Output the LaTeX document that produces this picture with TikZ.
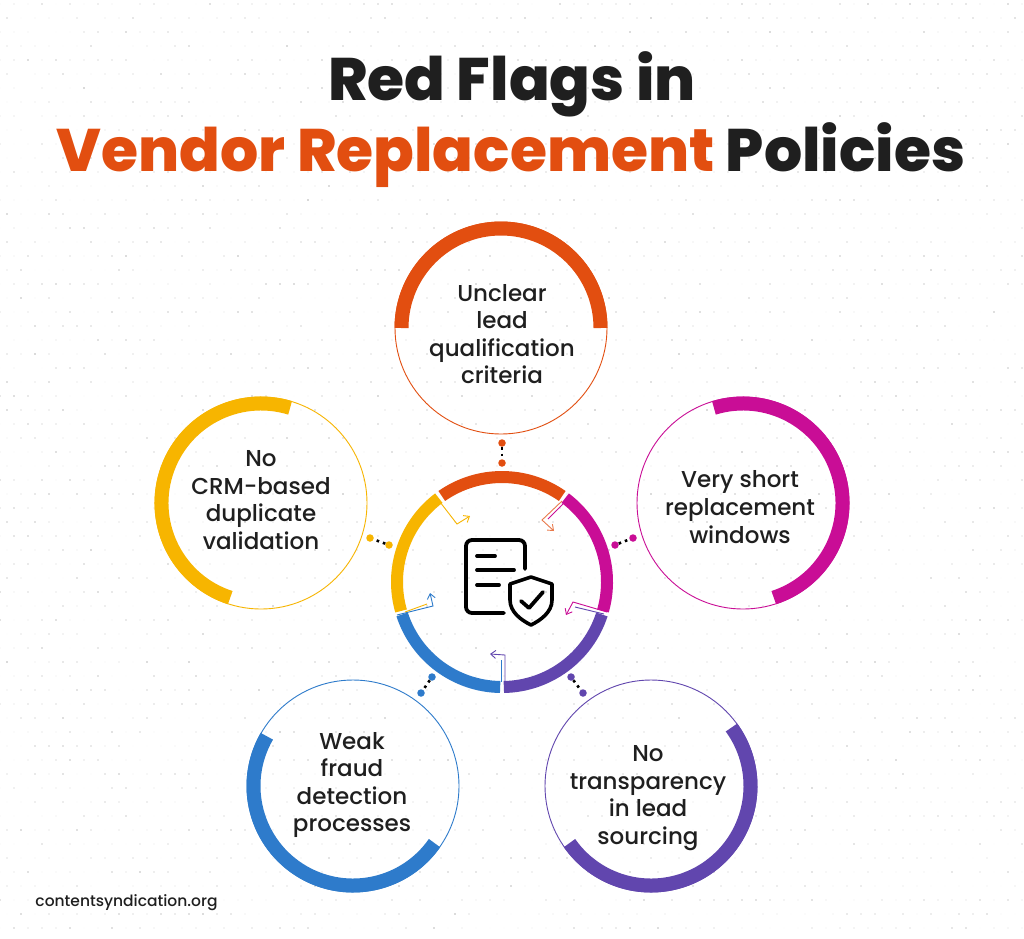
\documentclass[tikz,border=0pt]{standalone}
\usepackage{fontspec}
\setmainfont{Poppins}[UprightFont=* Medium,BoldFont=* ExtraBold]
\usetikzlibrary{arrows.meta, calc}
\definecolor{flagred}{HTML}{E24E10}
\definecolor{flagpink}{HTML}{C90D96}
\definecolor{flagviolet}{HTML}{6146AE}
\definecolor{flagblue}{HTML}{2E7BCB}
\definecolor{flagyellow}{HTML}{F7B500}
\definecolor{inkblack}{HTML}{1F1F1F}
\tikzset{>={Straight Barb[length=5pt,width=8pt]}}
\tikzset{
  label text/.style = {font=\fontsize{23}{27.6}\selectfont, text=inkblack, align=center},
  title text/.style = {font=\fontsize{60}{70}\bfseries\selectfont, text=inkblack},
  link dot/.style = {circle, inner sep=0pt, minimum size=7.5pt, fill=#1},
  link dots/.style = {line width=2.6pt, dash pattern=on 2.6pt off 4pt, black},
  bend arrow/.style = {->, line width=0.9pt},
  spare line/.style = {line width=0.9pt},
}
% thin circle with its thick arc
\newcommand{\bubble}[4]{
   \draw[#1, line width=0.9pt] (#2) circle (106);
   \draw[#1, line width=14pt] ($ (#2)+(#3:99.5) $) arc (#3:#4:99.5);
}
% piece of the middle ring
\newcommand{\ringpart}[3]{
   \draw[#1, line width=12pt] ($ (hub)+(#2:105) $) arc (#2:#3:105);
}

\begin{document}
\begin{tikzpicture}[x=1pt,y=1pt]
	\useasboundingbox (0,-938) rectangle (1024,0);
	\fill[white] (0,-938) rectangle (1024,0);

	% Speckles
	\pgfmathsetseed{4711}
	\foreach \row in {0,...,66}{
		\foreach \col in {0,...,73}{
			\pgfmathsetmacro{\px}{\col*14+mod(\row,2)*7}
			\pgfmathsetmacro{\py}{-\row*14-4}
			\pgfmathsetmacro{\shade}{rnd*rnd*30}
			\fill[black!\shade] (\px,\py) circle (0.8);
		}
	}

	% Title
	\node[title text] (titleone) at (512,-84) {Red Flags in};
	\node[title text] (titletwo) at (511,-155) {\textcolor{flagred}{Vendor Replacement} Policies};

	% Centres
	\coordinate (hub) at (502,-582);
	\coordinate (ctop) at (501,-328);
	\coordinate (cright) at (743,-503);
	\coordinate (cleft) at (261,-503);
	\coordinate (cblue) at (353,-786);
	\coordinate (cviolet) at (651,-786);

	% Bubbles
	\bubble{flagred}{ctop}{180}{0}
	\bubble{flagpink}{cright}{107}{-72}
	\bubble{flagyellow}{cleft}{73}{252}
	\bubble{flagblue}{cblue}{150}{325}
	\bubble{flagviolet}{cviolet}{36}{-145}

	% Labels
	\node[label text] (lbtop) at (502,-334) {Unclear\\lead\\qualification\\criteria};
	\node[label text] (lbright) at (740,-507) {Very short\\replacement\\windows};
	\node[label text] (lbleft) at (261,-500) {No\\CRM-based\\duplicate\\validation};
	\node[label text] (lbblue) at (352,-785) {Weak\\fraud\\detection\\processes};
	\node[label text] (lbviolet) at (648,-798) {No\\transparency\\in lead\\sourcing};
	\node[font=\fontsize{15.5}{18}\selectfont, text=inkblack] (site) at (126.5,-903) {contentsyndication.org};

	% Ring
	\ringpart{flagred}{125}{55}
	\ringpart{flagpink}{53}{-16}
	\ringpart{flagviolet}{-18}{-89}
	\ringpart{flagblue}{-91}{-162}
	\ringpart{flagyellow}{196}{127}

	% Ring arrows
	\draw[bend arrow, flagyellow] (440,-502) -- (457,-524) -- (470,-516);
	\draw[bend arrow, flagred!75] (562,-501) -- (542,-520) -- (554,-531);
	\draw[spare line, flagpink] (563,-504) -- (548,-519);
	\draw[bend arrow, flagpink] (607,-612) -- (573,-602) -- (566,-615);
	\draw[spare line, flagviolet] (604,-614) -- (575,-607);
	\draw[bend arrow, flagviolet] (505,-682) -- (505,-655) -- (490,-654);
	\draw[spare line, flagblue] (501,-682) -- (501,-660);
	\draw[bend arrow, flagblue] (397,-615) -- (433,-606) -- (430,-593);
	\draw[spare line, flagyellow] (405,-612) -- (427,-604);

	% Dots
	\node[link dot=flagred] (dta) at (502,-443) {};
	\node[link dot=flagred] (dtb) at (502,-463) {};
	\node[link dot=flagpink] (dra) at (615,-545) {};
	\node[link dot=flagpink] (drb) at (633,-538) {};
	\node[link dot=flagyellow] (dla) at (389,-545) {};
	\node[link dot=flagyellow] (dlb) at (370,-538) {};
	\node[link dot=flagblue] (dba) at (432,-677) {};
	\node[link dot=flagblue] (dbb) at (421,-693) {};
	\node[link dot=flagviolet] (dva) at (571,-677) {};
	\node[link dot=flagviolet] (dvb) at (583,-693) {};
	\draw[link dots] (dta) -- (dtb);
	\draw[link dots] (dra) -- (drb);
	\draw[link dots] (dla) -- (dlb);
	\draw[link dots] (dba) -- (dbb);
	\draw[link dots] (dva) -- (dvb);

	% Document icon
	\draw[black, line width=3.8pt, line cap=round, rounded corners=6pt] (504,-613) -- (466,-613) -- (466,-540) -- (525,-540) -- (525,-569);
	\draw[black, line width=3.8pt, line cap=round] (477,-556) -- (495,-556);
	\draw[black, line width=3.8pt, line cap=round] (477,-570) -- (514,-570);
	\draw[black, line width=3.8pt, line cap=round] (477,-585) -- (499,-585);
	% Shield
	\draw[black, line width=3.6pt, line join=round] (531,-577) -- (552,-584) -- (552,-600) .. controls (552,-612) and (541,-620) .. (531,-625) .. controls (521,-620) and (510,-612) .. (510,-600) -- (510,-584) -- cycle;
	\draw[black, line width=3.8pt, line cap=round, line join=round] (521,-601) -- (529,-608) -- (543,-592);
\end{tikzpicture}
\end{document}
